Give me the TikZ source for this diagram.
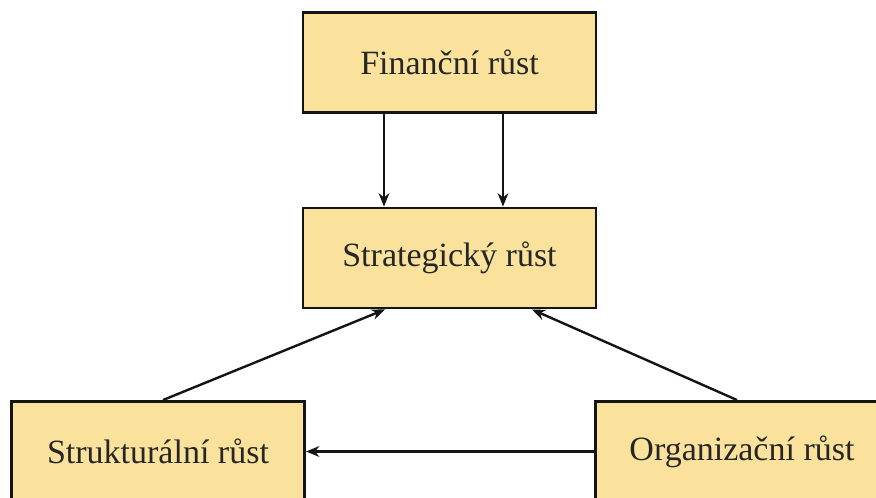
\documentclass[tikz,border=0pt]{standalone}
\usepackage{fontspec}
\setmainfont{Liberation Serif}
\definecolor{boxfill}{RGB}{250,226,156}
\definecolor{edge}{RGB}{20,20,20}
\usetikzlibrary{arrows.meta,positioning,calc}
\tikzset{
  gbox/.style={rectangle, draw=edge, fill=boxfill, line width=2.2pt,
    minimum width=219.75pt, minimum height=75pt, inner sep=0pt,
    font=\fontsize{25.5}{30}\selectfont, text=black!85},
  garrow/.style={-{Stealth[length=10pt,width=8pt]}, edge, line width=1.8pt}
}
\begin{document}
\begin{tikzpicture}[x=0.75pt,y=-0.75pt]
  \clip (0,0) rectangle (876,497);
  \fill[white] (0,0) rectangle (876,497);
  \node[gbox] (fin) at (449.5,62.5) {Finanční růst};
  \node[gbox] (str) at (449.5,258) {Strategický růst};
  \node[gbox] (struk) at (158,451.5) {Strukturální růst};
  \node[gbox] (org) at (742,451.5) {Organizační růst};
  \draw[garrow] ($(fin.south)+(-65.5,0)$) -- ($(str.north)+(-65.5,0)$);
  \draw[garrow] ($(fin.south)+(53.5,0)$) -- ($(str.north)+(53.5,0)$);
  \draw[garrow] ($(struk.north)+(5,0)$) -- ($(str.south)+(-64.5,0)$);
  \draw[garrow] ($(org.north)+(-5,0)$) -- ($(str.south)+(82.5,0)$);
  \draw[garrow] (org.west) -- (struk.east);
\end{tikzpicture}
\end{document}
